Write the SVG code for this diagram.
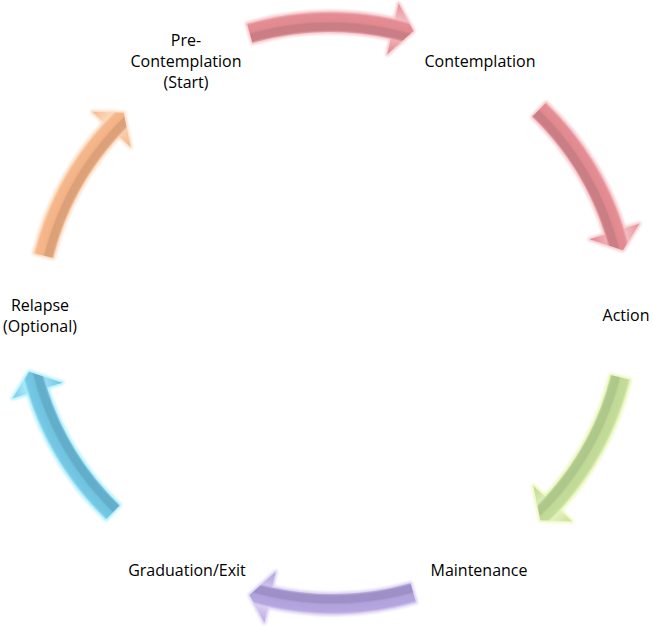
<svg xmlns="http://www.w3.org/2000/svg" xmlns:xlink="http://www.w3.org/1999/xlink" width="653" height="628" viewBox="0 0 653 628">
<style>
.lbl{font-family:"Open Sans","Liberation Sans",sans-serif;font-size:16px;fill:#000;text-anchor:middle}
.halo{stroke-width:4;stroke-linejoin:round;filter:url(#blur);opacity:.85}
</style>
<defs>
<filter id="blur" x="-20%" y="-20%" width="140%" height="140%"><feGaussianBlur stdDeviation="1.2"/></filter>
<path id="arc" d="M247,23.6 A301,301 0 0 1 395.1,19.1 L398.6,3.5 L413.5,31.1 L387.3,54.3 L390.8,38.7 A281,281 0 0 0 252.5,42.9 Z"/>
<radialGradient id="gRed" gradientUnits="userSpaceOnUse" cx="330" cy="313" r="320">
<stop offset="0" stop-color="#e3878d"/><stop offset="0.83" stop-color="#e3878d"/>
<stop offset="0.876" stop-color="#f0aeb2"/><stop offset="0.884" stop-color="#cb7e85"/>
<stop offset="0.905" stop-color="#c97d84"/><stop offset="0.912" stop-color="#e28990"/>
<stop offset="0.934" stop-color="#e48d94"/><stop offset="0.942" stop-color="#f3bcc0"/><stop offset="1" stop-color="#e3878d"/>
</radialGradient>
<radialGradient id="gGreen" gradientUnits="userSpaceOnUse" cx="330" cy="313" r="320">
<stop offset="0" stop-color="#c2da98"/><stop offset="0.83" stop-color="#c2da98"/>
<stop offset="0.876" stop-color="#d8eab2"/><stop offset="0.884" stop-color="#afc88b"/>
<stop offset="0.905" stop-color="#adc689"/><stop offset="0.912" stop-color="#c0d996"/>
<stop offset="0.934" stop-color="#c4dc9a"/><stop offset="0.942" stop-color="#e4f2ba"/><stop offset="1" stop-color="#c2da98"/>
</radialGradient>
<radialGradient id="gPurple" gradientUnits="userSpaceOnUse" cx="330" cy="313" r="320">
<stop offset="0" stop-color="#b3a3dc"/><stop offset="0.83" stop-color="#b3a3dc"/>
<stop offset="0.876" stop-color="#cbbfea"/><stop offset="0.884" stop-color="#9f90c8"/>
<stop offset="0.905" stop-color="#9e8fc7"/><stop offset="0.912" stop-color="#b2a2dc"/>
<stop offset="0.934" stop-color="#b6a6de"/><stop offset="0.942" stop-color="#d8cef2"/><stop offset="1" stop-color="#b3a3dc"/>
</radialGradient>
<radialGradient id="gCyan" gradientUnits="userSpaceOnUse" cx="330" cy="313" r="320">
<stop offset="0" stop-color="#72c6e2"/><stop offset="0.83" stop-color="#72c6e2"/>
<stop offset="0.876" stop-color="#98dcf2"/><stop offset="0.884" stop-color="#63afcb"/>
<stop offset="0.905" stop-color="#62aeca"/><stop offset="0.912" stop-color="#70c4e0"/>
<stop offset="0.934" stop-color="#76c8e4"/><stop offset="0.942" stop-color="#a8e8fa"/><stop offset="1" stop-color="#72c6e2"/>
</radialGradient>
<radialGradient id="gOrange" gradientUnits="userSpaceOnUse" cx="330" cy="313" r="320">
<stop offset="0" stop-color="#f4b589"/><stop offset="0.83" stop-color="#f4b589"/>
<stop offset="0.876" stop-color="#f9ceaa"/><stop offset="0.884" stop-color="#dea27a"/>
<stop offset="0.905" stop-color="#dca079"/><stop offset="0.912" stop-color="#f3b387"/>
<stop offset="0.934" stop-color="#f5b78c"/><stop offset="0.942" stop-color="#fbd8ba"/><stop offset="1" stop-color="#f4b589"/>
</radialGradient>
</defs>
<rect width="653" height="628" fill="#fff"/>
<g id="connectors">
<g id="arrow-precontemplation-contemplation">
<use xlink:href="#arc" class="halo" fill="#f5c2c5" stroke="#f5c2c5"/>
<use xlink:href="#arc" fill="url(#gRed)"/>
</g>
<g id="arrow-contemplation-action" transform="translate(7,6) rotate(60 330 313)">
<use xlink:href="#arc" class="halo" fill="#f5c2c5" stroke="#f5c2c5"/>
<use xlink:href="#arc" fill="url(#gRed)"/>
</g>
<g id="arrow-action-maintenance" transform="translate(8,-6) rotate(120 330 313)">
<use xlink:href="#arc" class="halo" fill="#e8f5b0" stroke="#e8f5b0"/>
<use xlink:href="#arc" fill="url(#gGreen)"/>
</g>
<g id="arrow-maintenance-graduation" transform="translate(3,0) rotate(180 330 313)">
<use xlink:href="#arc" class="halo" fill="#d8cdf2" stroke="#d8cdf2"/>
<use xlink:href="#arc" fill="url(#gPurple)"/>
</g>
<g id="arrow-graduation-relapse" transform="translate(-15,-10) rotate(240 330 313)">
<use xlink:href="#arc" class="halo" fill="#a8eeff" stroke="#a8eeff"/>
<use xlink:href="#arc" fill="url(#gCyan)"/>
</g>
<g id="arrow-relapse-precontemplation" transform="translate(-4,13) rotate(300 330 313)">
<use xlink:href="#arc" class="halo" fill="#fbd8ba" stroke="#fbd8ba"/>
<use xlink:href="#arc" fill="url(#gOrange)"/>
</g>
</g>
<g id="node-precontemplation"><text class="lbl" x="186" y="46">Pre-</text><text class="lbl" x="186" y="67">Contemplation</text><text class="lbl" x="186" y="88">(Start)</text></g>
<g id="node-contemplation"><text class="lbl" x="480" y="67">Contemplation</text></g>
<g id="node-action"><text class="lbl" x="626" y="321">Action</text></g>
<g id="node-maintenance"><text class="lbl" x="479" y="576">Maintenance</text></g>
<g id="node-graduation"><text class="lbl" x="187" y="576">Graduation/Exit</text></g>
<g id="node-relapse"><text class="lbl" x="40" y="311">Relapse</text><text class="lbl" x="40" y="332">(Optional)</text></g>
</svg>
